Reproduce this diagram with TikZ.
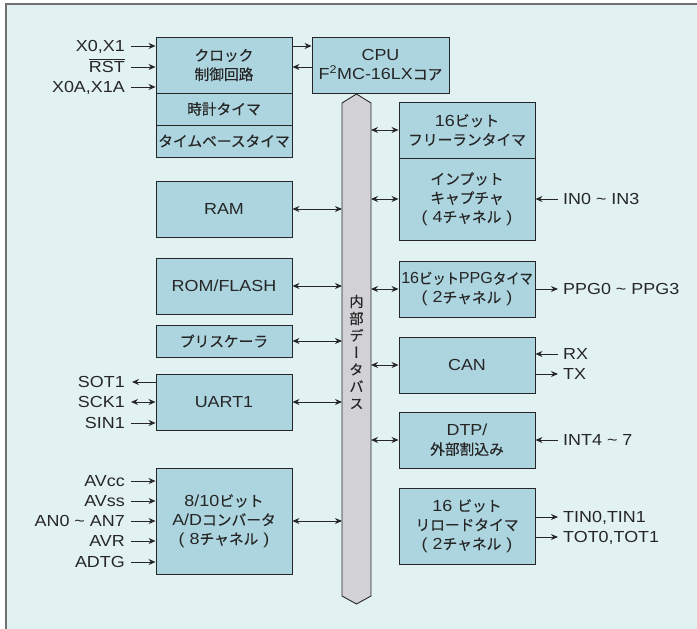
\documentclass[tikz,border=0pt]{standalone}
\usepackage{fontspec}
\setmainfont{Liberation Sans}[FakeStretch=1.12]
\newfontfamily\jpfont{Noto Sans CJK JP}[Scale=0.92,FakeBold=0.4]
\newfontfamily\jpvert{Noto Sans CJK JP}[Scale=0.89,FakeBold=0.4,RawFeature=+vert]
\newcommand\J[1]{{\jpfont #1}}
\newcommand\barred[1]{\vbox{\hrule height 0.9pt\kern 1.2pt\hbox{#1}}}
\usetikzlibrary{arrows.meta,positioning}

\definecolor{bgcyan}{HTML}{E2F2F3}
\definecolor{boxblue}{HTML}{ADD5E0}
\definecolor{busgray}{HTML}{D2D2D6}
\definecolor{ink}{HTML}{262626}
\definecolor{framegray}{HTML}{707070}

\tikzset{
  blk/.style={draw=ink, line width=0.9pt, fill=boxblue, text=ink,
    minimum width=136pt, align=center, inner sep=1pt,
    font=\fontsize{16}{19}\selectfont},
  lbl/.style={inner sep=0pt, text height=11.5pt, text depth=0pt, text=ink,
    font=\fontsize{16}{19}\selectfont},
  sig/.style={draw=ink, line width=0.9pt, -{Stealth[length=7pt,width=6pt]}},
  bidir/.style={draw=ink, line width=0.9pt,
    {Stealth[length=7pt,width=6pt]}-{Stealth[length=7pt,width=6pt]}},
}

\begin{document}
\begin{tikzpicture}[x=1pt, y=-1pt]
  \useasboundingbox (0,0) rectangle (697,629);
  \fill[bgcyan] (6,4) rectangle (697,629);
  \draw[framegray, line width=1.2pt] (6,629) -- (6,4) -- (697,4);

  % internal data bus
  \node[minimum width=29pt, minimum height=493pt, inner sep=0pt, outer sep=0pt] (bus) at (356.5,349.5) {};
  \draw[ink, line width=0.9pt, fill=busgray]
    (bus.south west) -- (bus.north west) -- ([yshift=9pt]bus.north)
    -- (bus.north east) -- (bus.south east) -- ([yshift=-8pt]bus.south) -- cycle;
  \node[align=center, inner sep=0pt, text=ink, font=\fontsize{16}{17}\selectfont\jpvert]
    (buslbl) at ([yshift=-2.5pt]bus.center) {内\\部\\デ\\ー\\タ\\バ\\ス};

  % left column
  \node[blk, minimum height=56pt] (clk) at (224,65) {\J{クロック}\\\J{制御回路}};
  \node[blk, minimum height=32pt] (tmr) at (224,109) {\J{時計タイマ}};
  \node[blk, minimum height=32pt] (tbt) at (224,141) {\J{タイムベースタイマ}};
  \node[blk, minimum height=56pt] (ram) at (224,209) {RAM};
  \node[blk, minimum height=56pt] (rom) at (224,286) {ROM/FLASH};
  \node[blk, minimum height=32pt] (psc) at (224,341) {\J{プリスケーラ}};
  \node[blk, minimum height=56pt] (uart) at (224,402) {UART1};
  \node[blk, minimum height=106pt] (adc) at (224,521)
    {8/10\J{ビット}\\A/D\J{コンバータ}\\(\hspace{5pt}8\J{チャネル}\hspace{5pt})};

  % CPU
  \node[blk, minimum width=137pt, minimum height=56pt] (cpu) at (380.5,65)
    {CPU\\F\textsuperscript{2}MC-16LX\J{コア}};

  % right column
  \node[blk, minimum height=56pt] (frt) at (467,130) {16\J{ビット}\\\J{フリーランタイマ}};
  \node[blk, minimum height=82pt] (icu) at (467,199)
    {\J{インプット}\\\J{キャプチャ}\\(\hspace{5pt}4\J{チャネル}\hspace{5pt})};
  \node[blk, minimum height=56pt] (ppg) at (467,289)
    {\scalebox{0.9}[1]{16\J{ビット}PPG\J{タイマ}}\\(\hspace{5pt}2\J{チャネル}\hspace{5pt})};
  \node[blk, minimum height=56pt] (can) at (467,365) {CAN};
  \node[blk, minimum height=56pt] (dtp) at (467,440) {DTP/\\\J{外部割込み}};
  \node[blk, minimum height=76pt] (rld) at (467,526)
    {16 \J{ビット}\\\J{リロードタイマ}\\(\hspace{5pt}2\J{チャネル}\hspace{5pt})};

  % pin labels, left
  \node[lbl, anchor=east] (x01) at (125,46) {X0,X1};
  \node[lbl, anchor=east] (rst) at (125,67) {\barred{RST}};
  \node[lbl, anchor=east] (x0a) at (125,87) {X0A,X1A};
  \node[lbl, anchor=east] (sot) at (125,382) {SOT1};
  \node[lbl, anchor=east] (sck) at (125,402) {SCK1};
  \node[lbl, anchor=east] (sin) at (125,423) {SIN1};
  \node[lbl, anchor=east] (avcc) at (125,481) {AVcc};
  \node[lbl, anchor=east] (avss) at (125,501) {AVss};
  \node[lbl, anchor=east] (anx) at (125,521) {AN0 \textasciitilde{} AN7};
  \node[lbl, anchor=east] (avr) at (125,541) {AVR};
  \node[lbl, anchor=east] (adtg) at (125,562) {ADTG};

  % pin labels, right
  \node[lbl, anchor=west] (inx) at (563,199) {IN0 \textasciitilde{} IN3};
  \node[lbl, anchor=west] (ppgx) at (563,289) {PPG0 \textasciitilde{} PPG3};
  \node[lbl, anchor=west] (rx) at (563,354) {RX};
  \node[lbl, anchor=west] (tx) at (563,374) {TX};
  \node[lbl, anchor=west] (intx) at (563,440) {INT4 \textasciitilde{} 7};
  \node[lbl, anchor=west] (tin) at (563,517) {TIN0,TIN1};
  \node[lbl, anchor=west] (tot) at (563,537) {TOT0,TOT1};

  % clock inputs and CPU link
  \draw[sig] ([xshift=6pt]x01.east) -- (clk.west |- x01);
  \draw[sig] ([xshift=6pt]rst.east) -- (clk.west |- rst);
  \draw[sig] ([xshift=6pt]x0a.east) -- (clk.west |- x0a);
  \draw[sig] (clk.east |- x01) -- (cpu.west |- x01);
  \draw[sig] (cpu.west |- rst) -- (clk.east |- rst);

  % UART pins
  \draw[sig] (uart.west |- sot) -- ([xshift=7pt]sot.east);
  \draw[bidir] ([xshift=6pt]sck.east) -- (uart.west |- sck);
  \draw[sig] ([xshift=6pt]sin.east) -- (uart.west |- sin);

  % A/D pins
  \draw[sig] ([xshift=6pt]avcc.east) -- (adc.west |- avcc);
  \draw[sig] ([xshift=6pt]avss.east) -- (adc.west |- avss);
  \draw[sig] ([xshift=6pt]anx.east) -- (adc.west |- anx);
  \draw[sig] ([xshift=6pt]avr.east) -- (adc.west |- avr);
  \draw[sig] ([xshift=6pt]adtg.east) -- (adc.west |- adtg);

  % bus connections
  \draw[bidir] (ram.east) -- (ram.east -| bus.west);
  \draw[bidir] (rom.east) -- (rom.east -| bus.west);
  \draw[bidir] (psc.east) -- (psc.east -| bus.west);
  \draw[bidir] (uart.east) -- (uart.east -| bus.west);
  \draw[bidir] (adc.east) -- (adc.east -| bus.west);
  \draw[bidir] (frt.west -| bus.east) -- (frt.west);
  \draw[bidir] (icu.west -| bus.east) -- (icu.west);
  \draw[bidir] (ppg.west -| bus.east) -- (ppg.west);
  \draw[bidir] (can.west -| bus.east) -- (can.west);
  \draw[bidir] (dtp.west -| bus.east) -- (dtp.west);

  % right-hand pins
  \draw[sig] ([xshift=-5pt]inx.west) -- (icu.east |- inx);
  \draw[sig] (ppg.east |- ppgx) -- ([xshift=-5pt]ppgx.west);
  \draw[sig] ([xshift=-5pt]rx.west) -- (can.east |- rx);
  \draw[sig] (can.east |- tx) -- ([xshift=-5pt]tx.west);
  \draw[sig] ([xshift=-5pt]intx.west) -- (dtp.east |- intx);
  \draw[sig] (rld.east |- tin) -- ([xshift=-5pt]tin.west);
  \draw[sig] (rld.east |- tot) -- ([xshift=-5pt]tot.west);
\end{tikzpicture}
\end{document}
